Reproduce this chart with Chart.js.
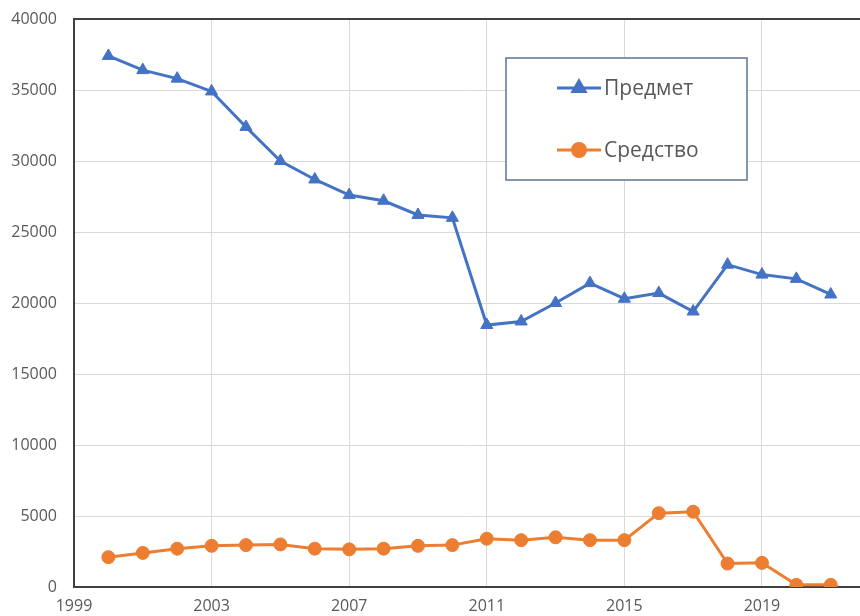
<!DOCTYPE html>
<html>
<head>
<meta charset="utf-8">
<script src="https://cdn.jsdelivr.net/npm/chart.js@4/dist/chart.umd.min.js"></script>
<style>
  html, body { margin: 0; padding: 0; background: #fff; overflow: hidden; }
  #wrap { width: 868px; height: 616px; position: relative; }
</style>
</head>
<body>
<div id="wrap"><canvas id="chart"></canvas></div>
<script>
// Data
const years = [2000, 2001, 2002, 2003, 2004, 2005, 2006, 2007, 2008, 2009, 2010,
               2011, 2012, 2013, 2014, 2015, 2016, 2017, 2018, 2019, 2020, 2021];
const predmet = [37400, 36400, 35800, 34900, 32400, 30000, 28700, 27600, 27200, 26200, 26000,
                 18450, 18700, 20000, 21400, 20300, 20700, 19400, 22700, 22000, 21700, 20600];
const sredstvo = [2100, 2400, 2700, 2900, 2950, 3000, 2700, 2650, 2700, 2900, 2950,
                  3400, 3300, 3500, 3300, 3300, 5200, 5300, 1650, 1700, 150, 150];
const seriesNames = ['Предмет', 'Средство'];
const xTickLabels = [1999, 2003, 2007, 2011, 2015, 2019];

const FONT = "'Open Sans', 'Liberation Sans', sans-serif";
const BLUE = '#4472c4';
const ORANGE = '#ed7d31';
const AXIS = '#404040';
const GRID = '#d9d9d9';

// Floating legend box in the middle-right of the plot, like the original
const boxLegend = {
    id: 'boxLegend',
    afterDraw(chart) {
        const ctx = chart.ctx;
        const bx = 506, by = 58, bw = 241, bh = 122;
        ctx.save();
        ctx.fillStyle = '#fff';
        ctx.fillRect(bx, by, bw, bh);
        ctx.strokeStyle = '#5b7490';
        ctx.lineWidth = 1.5;
        ctx.strokeRect(bx, by, bw, bh);

        chart.data.datasets.forEach((ds, i) => {
            const y = 88 + i * 62;
            ctx.strokeStyle = ds.borderColor;
            ctx.lineWidth = 3;
            ctx.beginPath();
            ctx.moveTo(557, y);
            ctx.lineTo(601, y);
            ctx.stroke();
            Chart.helpers.drawPoint(ctx, {
                pointStyle: ds.pointStyle,
                radius: ds.pointRadius,
                borderWidth: 1
            }, 579, y);
            ctx.fillStyle = ds.pointBackgroundColor;
            ctx.fill();
            ctx.fillStyle = '#595959';
            ctx.font = '21px ' + FONT;
            ctx.textBaseline = 'middle';
            ctx.textAlign = 'left';
            ctx.fillText(ds.label, 604, y + 1);
        });
        ctx.restore();
    }
};

const ctx = document.getElementById('chart').getContext('2d');
new Chart(ctx, {
    type: 'line',
    data: {
        datasets: [
            {
                label: seriesNames[0],
                data: years.map((x, i) => ({ x, y: predmet[i] })),
                borderColor: BLUE,
                backgroundColor: BLUE,
                pointBackgroundColor: BLUE,
                pointBorderColor: BLUE,
                borderWidth: 3,
                pointStyle: 'triangle',
                pointRadius: 7,
                pointBorderWidth: 1,
                tension: 0
            },
            {
                label: seriesNames[1],
                data: years.map((x, i) => ({ x, y: sredstvo[i] })),
                borderColor: ORANGE,
                backgroundColor: ORANGE,
                pointBackgroundColor: ORANGE,
                pointBorderColor: ORANGE,
                borderWidth: 3,
                pointStyle: 'circle',
                pointRadius: 6.5,
                pointBorderWidth: 1,
                tension: 0
            }
        ]
    },
    options: {
        responsive: true,
        maintainAspectRatio: false,
        animation: false,
        layout: { padding: { top: 19, left: 0, right: 0, bottom: 0 } },
        plugins: {
            legend: { display: false },
            tooltip: { enabled: false }
        },
        scales: {
            x: {
                type: 'linear',
                min: 1999,
                max: 2021.85,
                afterBuildTicks: (scale) => {
                    scale.ticks = xTickLabels.map(v => ({ value: v }));
                },
                afterFit: (scale) => { scale.height = 29; },
                grid: { color: GRID, lineWidth: 1, drawTicks: false },
                border: { color: AXIS, width: 2 },
                ticks: {
                    color: '#595959',
                    font: { family: FONT, size: 16 },
                    padding: 10,
                    maxRotation: 0,
                    callback: v => String(v)
                }
            },
            y: {
                min: 0,
                max: 40000,
                afterFit: (scale) => {
                    scale.width = 74;
                    scale.paddingTop = 0;
                    scale.paddingBottom = 0;
                },
                ticks: {
                    stepSize: 5000,
                    color: '#595959',
                    font: { family: FONT, size: 16 },
                    padding: 17,
                    callback: v => String(v)
                },
                grid: {
                    color: c => c.tick && c.tick.value === 40000 ? AXIS : GRID,
                    lineWidth: c => c.tick && c.tick.value === 40000 ? 2 : 1,
                    drawTicks: false
                },
                border: { color: AXIS, width: 2 }
            }
        }
    },
    plugins: [boxLegend]
});
</script>
</body>
</html>
